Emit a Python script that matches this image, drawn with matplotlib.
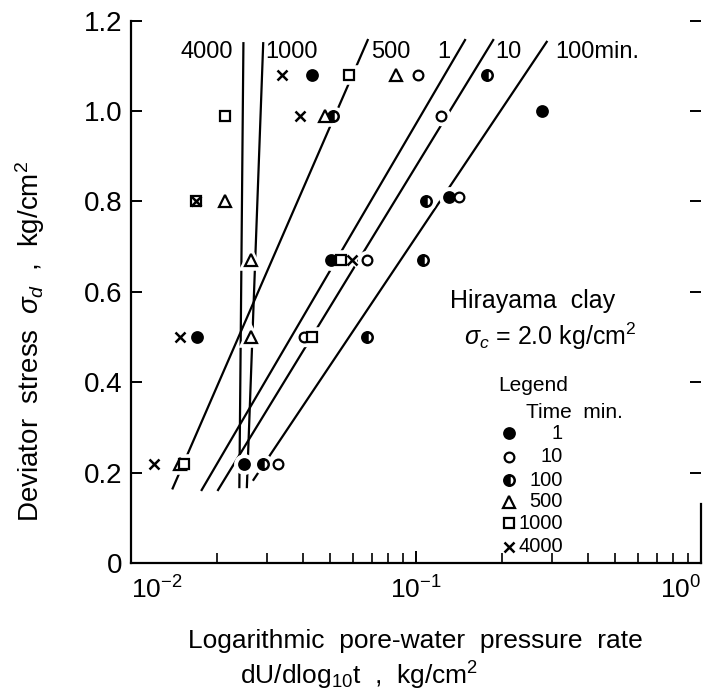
import matplotlib
matplotlib.use("Agg")
import matplotlib.pyplot as plt

plt.rcParams['font.family'] = ['Liberation Sans', 'DejaVu Sans']
plt.rcParams['mathtext.fontset'] = 'custom'
plt.rcParams['mathtext.rm'] = 'Liberation Sans'
plt.rcParams['mathtext.it'] = 'Liberation Sans:italic'

# measured points: deviator stress (kg/cm2) vs dU/dlog10 t (kg/cm2), per elapsed time
stress_1 = [0.22, 0.50, 0.67, 0.81, 1.00, 1.08]
rate_1 = [0.0250, 0.0170, 0.0502, 0.131, 0.276, 0.0433]
stress_10 = [0.22, 0.50, 0.67, 0.81, 0.99, 1.08]
rate_10 = [0.0327, 0.0406, 0.0672, 0.1416, 0.122, 0.1019]
stress_100 = [0.22, 0.50, 0.67, 0.80, 0.99, 1.08]
rate_100 = [0.0291, 0.0672, 0.1057, 0.1084, 0.0510, 0.177]
stress_500 = [0.22, 0.50, 0.67, 0.80, 0.99, 1.08]
rate_500 = [0.0149, 0.0264, 0.0264, 0.0214, 0.0480, 0.0851]
stress_1000 = [0.22, 0.50, 0.67, 0.80, 0.99, 1.08]
rate_1000 = [0.0154, 0.0431, 0.0545, 0.0169, 0.0214, 0.0583]
stress_4000 = [0.22, 0.50, 0.67, 0.80, 0.99, 1.08]
rate_4000 = [0.0120, 0.0149, 0.0598, 0.0169, 0.0392, 0.0338]

# hand-drawn trend lines: (rate at bottom, rate at top), (stress at bottom, stress at top)
line_names = ['4000', '1000', '500', '1', '10', '100min.']
line_rate = [[0.0240, 0.0248], [0.0255, 0.0291], [0.0140, 0.0677],
             [0.0177, 0.1486], [0.0202, 0.1866], [0.0269, 0.2875]]
line_stress = [[0.168, 1.150], [0.168, 1.150], [0.165, 1.157],
               [0.1615, 1.157], [0.1615, 1.157], [0.184, 1.153]]
# label x position (axes fraction) for each line name
line_label_x = [0.1325, 0.281, 0.456, 0.548, 0.662, 0.818]

times = ['1', '10', '100', '500', '1000', '4000']
all_rate = [rate_1, rate_10, rate_100, rate_500, rate_1000, rate_4000]
all_stress = [stress_1, stress_10, stress_100, stress_500, stress_1000, stress_4000]

styles = [
    dict(marker='o', mfc='black', mec='black', ms=8, mew=1.2),
    dict(marker='o', mfc='white', mec='black', ms=7, mew=1.6),
    dict(marker='o', fillstyle='left', mfc='black', mfcalt='white', mec='black', ms=7.5, mew=1.8),
    dict(marker='^', mfc='white', mec='black', ms=8, mew=1.6),
    dict(marker='s', mfc='white', mec='black', ms=7, mew=1.6),
    dict(marker='x', mec='black', ms=7, mew=1.8),
]

fig = plt.figure(figsize=(7.05, 6.91), dpi=100)
ax = fig.add_axes([131 / 705, 1 - 563 / 691, 570 / 705, 542.4 / 691])

for r, s in zip(line_rate, line_stress):
    ax.plot(r, s, color='black', lw=1.6, zorder=2)

for r, s, st in zip(all_rate, all_stress, styles):
    # white halo so the lines break around the symbols
    ax.plot(r, s, ls='none', marker=st['marker'], ms=st['ms'] + 3,
            mfc='white', mec='white', mew=4, zorder=3)
    ax.plot(r, s, ls='none', zorder=4, **st)

for name, lx in zip(line_names, line_label_x):
    ax.text(lx, 0.942, name, transform=ax.transAxes, ha='center', va='center',
            fontsize=17)

ax.text(0.705, 0.483, 'Hirayama  clay', transform=ax.transAxes, ha='center',
        va='center', fontsize=18)
ax.text(0.735, 0.4185, r'$\sigma_c$ = 2.0 kg/cm$^2$', transform=ax.transAxes,
        ha='center', va='center', fontsize=18)

# legend drawn by hand
ax.text(0.644, 0.328, 'Legend', transform=ax.transAxes, ha='left', va='center',
        fontsize=15)
ax.text(0.693, 0.278, 'Time  min.', transform=ax.transAxes, ha='left', va='center',
        fontsize=15)
leg_y = [0.239, 0.196, 0.153, 0.113, 0.073, 0.030]
for t, st, ly in zip(times, styles, leg_y):
    ax.plot([0.663], [ly], ls='none', transform=ax.transAxes, clip_on=False,
            zorder=4, **st)
    ax.text(0.758, ly, t, transform=ax.transAxes, ha='right', va='center',
            fontsize=14.5)

ax.set_xscale('log')
ax.set_xlim(0.01, 1.0)
ax.set_ylim(0, 1.2)
ax.set_xticks([0.01, 0.1, 1.0])
ax.set_yticks([0, 0.2, 0.4, 0.6, 0.8, 1.0, 1.2])
ax.set_yticklabels(['0', '0.2', '0.4', '0.6', '0.8', '1.0', '1.2'])

ax.spines['top'].set_visible(False)
ax.spines['right'].set_bounds(0, 0.13)
for sp in ax.spines.values():
    sp.set_linewidth(1.6)

ax.tick_params(axis='x', which='major', direction='in', length=9, width=1.4,
               labelsize=19, pad=10)
ax.tick_params(axis='x', which='minor', direction='in', length=7, width=1.2)
ax.tick_params(axis='y', which='major', direction='in', length=8, width=1.4,
               labelsize=20, pad=6, right=True)

xl = ax.get_xticklabels()
xl[0].set_horizontalalignment('left')
xl[-1].set_horizontalalignment('right')

fig.text(0.589, 1 - 641 / 691, 'Logarithmic  pore-water  pressure  rate',
         ha='center', va='center', fontsize=19)
fig.text(0.51, 1 - 676 / 691, r'dU/dlog$_{10}$t  ,  kg/cm$^2$',
         ha='center', va='center', fontsize=19)
fig.text(30 / 705, 1 - 341 / 691, r'Deviator  stress  $\sigma_d$  ,  kg/cm$^2$',
         rotation=90, ha='center', va='center', fontsize=20)

fig.savefig('out.png', dpi=100)
